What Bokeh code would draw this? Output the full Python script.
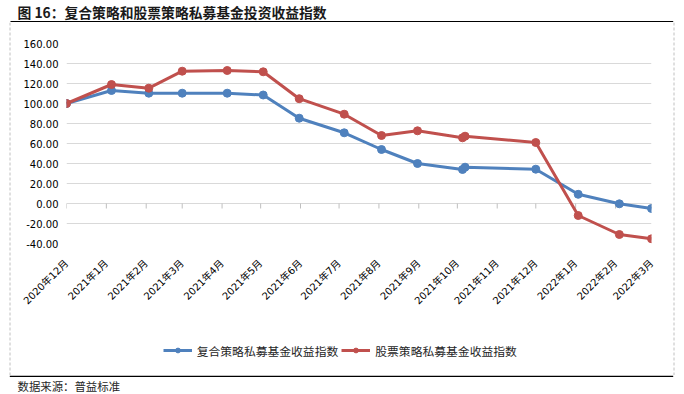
import math
import pandas as pd
from bokeh.plotting import figure
from bokeh.layouts import column, row
from bokeh.models import (Range1d, FixedTicker, NumeralTickFormatter, ColumnDataSource,
                          Legend, LegendItem, Label)
from bokeh.embed import file_html
from bokeh.resources import INLINE

# ---------------- data ----------------
dates = ["2020-12-01", "2021-01-05", "2021-02-03", "2021-03-01", "2021-04-05",
         "2021-05-03", "2021-05-31", "2021-07-05", "2021-08-03", "2021-08-31",
         "2021-10-05", "2021-10-07", "2021-12-01", "2022-01-03", "2022-02-04",
         "2022-03-01"]
composite = [100, 113, 110.3, 110.3, 110.3, 108.5, 85.3, 70.7, 54, 40,
             34, 36.3, 34.3, 9.2, -0.3, -5]
equity = [100, 119, 115.3, 132.3, 133, 131.7, 104.8, 89.3, 68, 72.7,
          65.7, 67.3, 61, -12, -31, -35.3]
series_names = ["复合策略私募基金收益指数", "股票策略私募基金收益指数"]

month_ticks = ["2020-12-01", "2021-01-01", "2021-02-01", "2021-03-01", "2021-04-01",
               "2021-05-01", "2021-06-01", "2021-07-01", "2021-08-01", "2021-09-01",
               "2021-10-01", "2021-11-01", "2021-12-01", "2022-01-01", "2022-02-01",
               "2022-03-01"]
tick_labels = ["2020年12月", "2021年1月", "2021年2月", "2021年3月", "2021年4月",
               "2021年5月", "2021年6月", "2021年7月", "2021年8月", "2021年9月",
               "2021年10月", "2021年11月", "2021年12月", "2022年1月", "2022年2月",
               "2022年3月"]
y_ticks = [-40, -20, 0, 20, 40, 60, 80, 100, 120, 140, 160]

title_text = "图 16：复合策略和股票策略私募基金投资收益指数"
source_text = "数据来源：普益标准"

# ---------------- style ----------------
BLUE = "#4F81BD"
RED = "#C0504D"
GRID = "#d9d9d9"
DASH = "#c0c0c0"
CJK = "'Noto Sans CJK SC'"
NUM = "'DejaVu Sans', 'Noto Sans CJK SC'"

TOTAL_W = 684
TOP_H, P_H, G_H, BOT_H = 22, 318, 35, 19
MID_H = P_H + G_H
L_W, P_W = 12, 650
R_W = TOTAL_W - L_W - P_W


def strip(w, h):
    """Blank drawing strip whose data units are its own pixels (y downward)."""
    f = figure(width=w, height=h, x_range=Range1d(0, w), y_range=Range1d(h, 0),
               x_axis_type=None, y_axis_type=None, output_backend="svg",
               toolbar_location=None, min_border=0, frame_align=False)
    f.min_border_left = f.min_border_right = f.min_border_top = f.min_border_bottom = 0
    f.outline_line_color = None
    f.grid.visible = False
    f.background_fill_color = "white"
    f.border_fill_color = "white"
    return f


# ---- top strip: title and black rule ----
top = strip(TOTAL_W, TOP_H)
top.add_layout(Label(x=17, y=11.2, text=title_text, text_font=CJK, text_font_size="13.8px",
                     text_font_style="bold", text_color="#1a1a1a",
                     text_baseline="middle", text_align="left"))
top.segment(x0=10, y0=21.25, x1=672.7, y1=21.25, line_color="black", line_width=1.5)

# ---- side strips: dashed frame edges ----
left = strip(L_W, MID_H)
left.segment(x0=9.5, y0=0, x1=9.5, y1=MID_H, line_color=DASH, line_width=1, line_dash="3 2")
right = strip(R_W, MID_H)
right.segment(x0=11.5, y0=0, x1=11.5, y1=MID_H, line_color=DASH, line_width=1, line_dash="3 2")

# ---- bottom strip: black rule and source ----
bottom = strip(TOTAL_W, BOT_H)
bottom.segment(x0=9.3, y0=0.75, x1=672.7, y1=0.75, line_color="black", line_width=1.5)
bottom.add_layout(Label(x=17, y=10.5, text=source_text, text_font=CJK, text_font_size="11.4px",
                        text_color="#262626", text_baseline="middle", text_align="left"))

# ---- main chart ----
src = ColumnDataSource(data=dict(date=pd.to_datetime(dates), composite=composite, equity=equity))
tick_ms = [float(pd.Timestamp(t).value // 10**6) for t in month_ticks]
tick_src = ColumnDataSource(data=dict(x=pd.to_datetime(month_ticks),
                                      y0=[0] * len(month_ticks),
                                      y1=[-5] * len(month_ticks)))

FL, FT, FH = 54, 21, 200
FW = 585
p = figure(width=P_W, height=P_H, x_axis_type="datetime",
           x_range=Range1d(pd.Timestamp(month_ticks[0]), pd.Timestamp(month_ticks[-1])),
           y_range=Range1d(y_ticks[0], y_ticks[-1]),
           output_backend="svg", toolbar_location=None, frame_align=False,
           min_border_left=FL, min_border_right=P_W - FL - FW,
           min_border_top=FT, min_border_bottom=P_H - FT - FH)
p.outline_line_color = None
p.background_fill_color = "white"
p.border_fill_color = "white"

p.yaxis.ticker = FixedTicker(ticks=y_ticks)
p.yaxis.formatter = NumeralTickFormatter(format="0.00")
p.yaxis.axis_line_color = None
p.yaxis.major_tick_line_color = None
p.yaxis.minor_tick_line_color = None
p.yaxis.major_tick_out = 0
p.yaxis.major_tick_in = 0
p.yaxis.minor_tick_out = 0
p.yaxis.major_label_standoff = 8
p.yaxis.major_label_text_font = NUM
p.yaxis.major_label_text_font_size = "10px"
p.yaxis.major_label_text_color = "#000000"

p.xaxis.ticker = FixedTicker(ticks=tick_ms)
p.xaxis.major_label_overrides = {ms: lab for ms, lab in zip(tick_ms, tick_labels)}
p.xaxis.major_label_orientation = math.pi / 4
p.xaxis.axis_line_color = None
p.xaxis.major_tick_line_color = None
p.xaxis.minor_tick_line_color = None
p.xaxis.major_tick_out = 0
p.xaxis.major_tick_in = 0
p.xaxis.minor_tick_out = 0
p.xaxis.major_label_standoff = 18
p.xaxis.major_label_text_font = NUM
p.xaxis.major_label_text_font_size = "10px"
p.xaxis.major_label_text_color = "#000000"

p.xgrid.visible = False
p.ygrid.ticker = FixedTicker(ticks=y_ticks)
p.ygrid.grid_line_color = GRID
p.ygrid.grid_line_width = 1

# short tick marks under the zero line
p.segment(x0="x", y0="y0", x1="x", y1="y1", source=tick_src, line_color="#bfbfbf", line_width=1)

p.line("date", "composite", source=src, line_color=BLUE, line_width=3, line_join="round")
p.scatter("date", "composite", source=src, marker="circle", size=8,
          fill_color=BLUE, line_color=BLUE)
p.line("date", "equity", source=src, line_color=RED, line_width=3, line_join="round")
p.scatter("date", "equity", source=src, marker="circle", size=8,
          fill_color=RED, line_color=RED)

# ---- legend strip (legend keys styled like the two series; no visible data) ----
g = strip(P_W, G_H)
nan_src = ColumnDataSource(data=dict(x=[float("nan")], y=[float("nan")]))
gb_l = g.line("x", "y", source=nan_src, line_color=BLUE, line_width=3)
gb_s = g.scatter("x", "y", source=nan_src, marker="circle", size=8, fill_color=BLUE, line_color=BLUE)
gr_l = g.line("x", "y", source=nan_src, line_color=RED, line_width=3)
gr_s = g.scatter("x", "y", source=nan_src, marker="circle", size=8, fill_color=RED, line_color=RED)
legend = Legend(items=[LegendItem(label=series_names[0], renderers=[gb_l, gb_s]),
                       LegendItem(label=series_names[1], renderers=[gr_l, gr_s])],
                orientation="horizontal", location=(150.7, 16.5),
                padding=0, margin=0, spacing=3, glyph_width=29, glyph_height=12,
                label_height=12, label_standoff=5, label_text_font=CJK,
                label_text_font_size="11.8px", label_text_color="#262626",
                border_line_color=None, background_fill_alpha=0)
g.add_layout(legend)

layout = column(top, row(left, column(p, g, spacing=0), right, spacing=0), bottom, spacing=0)
open("out.html", "w").write(file_html(layout, INLINE))
